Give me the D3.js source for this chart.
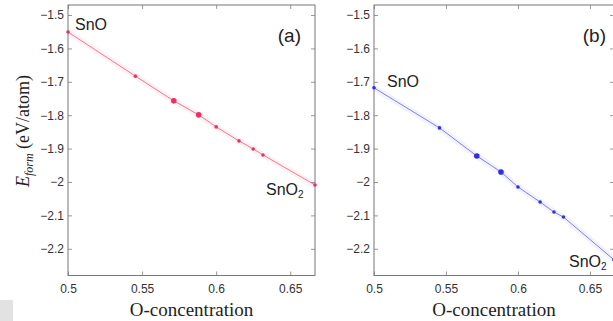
<!DOCTYPE html>
<html>
<head>
<meta charset="utf-8">
<script src="https://cdn.jsdelivr.net/npm/d3@7"></script>
<style>
  body { margin: 0; background: #fff; }
  svg { display: block; }
  .tick text { font-family: "Liberation Sans", Arial, sans-serif; font-size: 12px; fill: #333; }
  .tick line { stroke: #999; }
  .domain { display: none; }
</style>
</head>
<body>
<svg id="chart" width="613" height="321"></svg>
<script>
// O concentration of the computed structures
const oConc = [0.5, 0.5455, 0.5714, 0.5882, 0.6, 0.6154, 0.625, 0.6316, 0.6667];
// formation energies (eV/atom), panel (a) and panel (b)
const eFormA = [-1.551, -1.683, -1.757, -1.799, -1.835, -1.877, -1.901, -1.919, -2.009];
const eFormB = [-1.718, -1.838, -1.922, -1.970, -2.015, -2.060, -2.090, -2.105, -2.233];
const xTicks = [0.5, 0.55, 0.6, 0.65];
const yTicks = [-1.5, -1.6, -1.7, -1.8, -1.9, -2, -2.1, -2.2];
const xDomain = [0.5, 0.6667];
const yDomain = [-2.28, -1.47];
// structures drawn with larger markers
const bigMarks = [0.5714, 0.5882];

const svg = d3.select("#chart");

// grey block in the corner of the scan
svg.append("rect").attr("x", 0).attr("y", 300).attr("width", 13).attr("height", 21).attr("fill", "#e2e2e2");

const fmt = d => d3.format("")(d);

function drawPanel(opt) {
  const x = d3.scaleLinear().domain(xDomain).range([opt.left, opt.right]);
  const y = d3.scaleLinear().domain(yDomain).range([275.5, 5]);
  const g = svg.append("g");

  g.append("g")
    .attr("transform", "translate(0,275.5)")
    .call(d3.axisBottom(x).tickValues(xTicks).tickFormat(fmt).tickSizeInner(-4).tickSizeOuter(0).tickPadding(9));
  g.append("g")
    .attr("transform", "translate(0,5)")
    .call(d3.axisTop(x).tickValues(xTicks).tickFormat("").tickSizeInner(-4).tickSizeOuter(0));
  g.append("g")
    .attr("transform", "translate(" + opt.left + ",0)")
    .call(d3.axisLeft(y).tickValues(yTicks).tickFormat(fmt).tickSizeInner(-4).tickSizeOuter(0).tickPadding(4));
  g.append("g")
    .attr("transform", "translate(" + opt.right + ",0)")
    .call(d3.axisRight(y).tickValues(yTicks).tickFormat("").tickSizeInner(-4).tickSizeOuter(0));

  g.append("rect")
    .attr("x", opt.left).attr("y", 5)
    .attr("width", opt.right - opt.left).attr("height", 270.5)
    .attr("fill", "none").attr("stroke", "#777").attr("stroke-width", 1);

  const line = d3.line().x((d, i) => x(oConc[i])).y(d => y(d));
  // soft halo round the line
  g.append("path").datum(opt.values)
    .attr("d", line).attr("fill", "none")
    .attr("stroke", opt.lineColor).attr("stroke-opacity", 0.1).attr("stroke-width", 6);
  g.append("path").datum(opt.values)
    .attr("d", line).attr("fill", "none")
    .attr("stroke", opt.lineColor).attr("stroke-width", 1);

  g.selectAll("circle.pt")
    .data(opt.values)
    .enter()
    .append("circle")
    .attr("class", "pt")
    .attr("cx", (d, i) => x(oConc[i]))
    .attr("cy", d => y(d))
    .attr("r", (d, i) => bigMarks.includes(oConc[i]) ? 2.8 : 1.8)
    .attr("fill", opt.dotColor);

  const lab = g.append("g")
    .style("font-family", "'Liberation Sans', Arial, sans-serif")
    .attr("fill", "#222");
  lab.append("text").attr("x", opt.snoPos[0]).attr("y", opt.snoPos[1])
    .style("font-size", "16px").text("SnO");
  const t2 = lab.append("text").attr("x", opt.sno2Pos[0]).attr("y", opt.sno2Pos[1])
    .style("font-size", "16px");
  t2.append("tspan").text("SnO");
  t2.append("tspan").attr("dy", 3).style("font-size", "10px").text("2");
  lab.append("text").attr("x", opt.tagPos[0]).attr("y", opt.tagPos[1])
    .attr("text-anchor", "end").style("font-size", "19px").text(opt.tag);

  svg.append("text")
    .attr("x", (opt.left + opt.right) / 2).attr("y", 316)
    .attr("text-anchor", "middle")
    .style("font-family", "'Liberation Serif', 'DejaVu Serif', serif")
    .style("font-size", "19px").attr("fill", "#222")
    .text("O-concentration");
}

drawPanel({
  left: 68, right: 315, values: eFormA, tag: "(a)",
  lineColor: "#f07a90", dotColor: "#e8306a",
  snoPos: [75, 30], sno2Pos: [266, 195], tagPos: [301, 42]
});
drawPanel({
  left: 374, right: 614, values: eFormB, tag: "(b)",
  lineColor: "#8080e8", dotColor: "#2f2fe0",
  snoPos: [387, 87], sno2Pos: [569, 267], tagPos: [606, 42]
});

// y-axis title, panel (a)
const yt = svg.append("text")
  .attr("transform", "translate(29,131) rotate(-90)")
  .attr("text-anchor", "middle")
  .style("font-family", "'Liberation Serif', 'DejaVu Serif', serif")
  .style("font-size", "18px").attr("fill", "#222");
yt.append("tspan").style("font-style", "italic").text("E");
yt.append("tspan").attr("dy", 4).style("font-style", "italic").style("font-size", "12px").text("form");
yt.append("tspan").attr("dy", -4).text(" (eV/atom)");
</script>
</body>
</html>
